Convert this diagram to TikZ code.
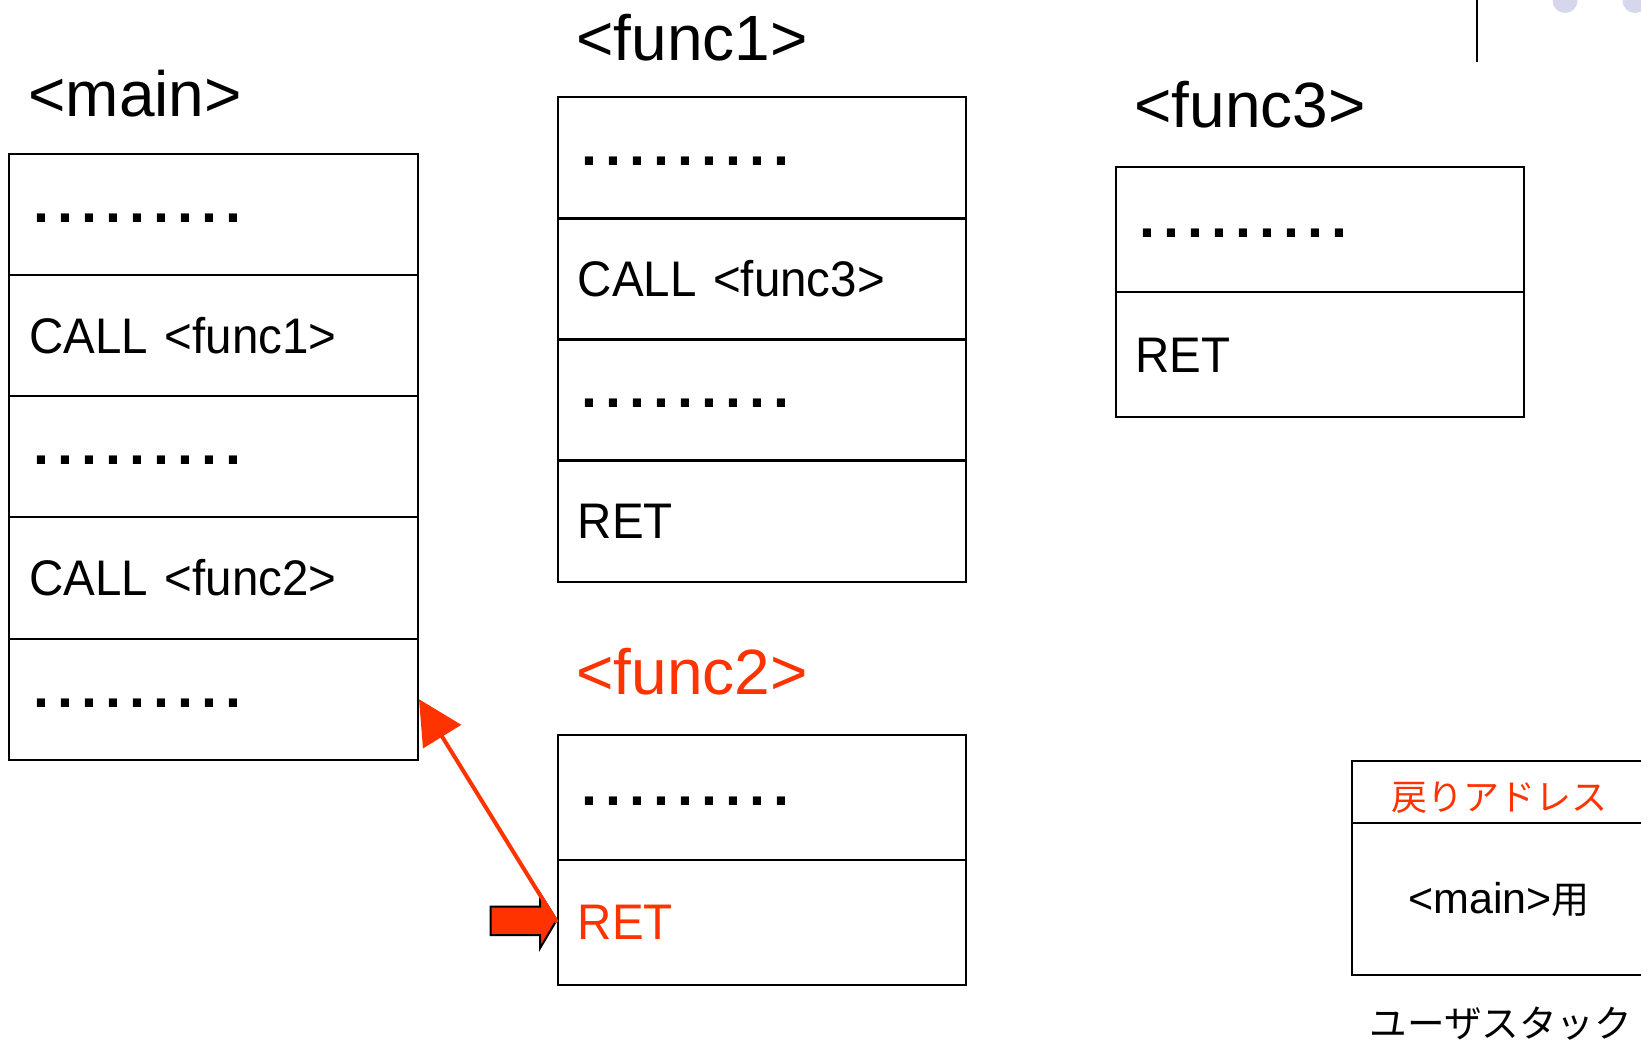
\documentclass[tikz,border=0pt]{standalone}
\usepackage{fontspec}
\setmainfont{Liberation Sans}
\newfontfamily\codefamily[FakeStretch=0.95,WordSpace=0.8]{Liberation Sans}
\newfontfamily\jpfont{Noto Sans CJK JP}
\usetikzlibrary{arrows.meta}
\definecolor{alertred}{RGB}{255,51,0}
\definecolor{softlavender}{RGB}{214,214,236}
\newcommand{\titlesize}{\fontsize{32pt}{38pt}\selectfont}
\newcommand{\codesize}{\codefamily\fontsize{25pt}{30pt}\selectfont}
\newcommand{\kanasize}{\jpfont\fontsize{18pt}{22pt}\selectfont}
\newcommand{\onedot}{\makebox[12pt]{.}}
\newcommand{\dotline}{\raisebox{-2pt}[4pt][0pt]{\rmfamily\bfseries\fontsize{28.75pt}{30pt}\selectfont
  \onedot\onedot\onedot\onedot\onedot\onedot\onedot\onedot\onedot}}
\begin{document}
\begin{tikzpicture}[x=0.5pt,y=-0.5pt,
  codebox/.style={draw, line width=1pt, anchor=north west,
    minimum width=204.3pt, text width=184.3pt, inner xsep=10pt,
    inner ysep=0pt, align=left, font=\codesize},
  tallrow/.style={codebox, minimum height=60.6pt},
  widerow/.style={codebox, minimum height=62.5pt},
  title/.style={anchor=base west, inner sep=0pt, font=\titlesize},
  stackcell/.style={draw, line width=1pt, anchor=north west,
    minimum width=147.3pt, inner sep=0pt, font=\kanasize},
  retline/.style={draw=alertred, line width=2pt,
    -{Triangle[length=22pt,width=22pt]}},
  blockarrow/.style={fill=alertred, draw=black, line width=1pt,
    line join=miter}
]
\clip (0,0) rectangle (1641,1044);

% decorations at the top right
\draw[line width=1pt] (1477,0) -- (1477,62);
\fill[softlavender] (1565,0.5) circle[radius=12.5];
\fill[softlavender] (1635,0.5) circle[radius=12.5];

% <main>
\node[title] (tmain) at (28,116) {<main>};
\node[tallrow] (m1) at (8.4,152.8) {\dotline};
\node[tallrow] (m2) at (8.4,274.0) {CALL <func1>};
\node[tallrow] (m3) at (8.4,395.2) {\dotline};
\node[tallrow] (m4) at (8.4,516.4) {CALL <func2>};
\node[tallrow] (m5) at (8.4,637.6) {\dotline};

% <func1>
\node[title] (tf1) at (576,60) {<func1>};
\node[tallrow] (f1a) at (556.8,96.3) {\dotline};
\node[tallrow] (f1b) at (556.8,217.3) {CALL <func3>};
\node[tallrow] (f1c) at (556.8,338.3) {\dotline};
\node[tallrow] (f1d) at (556.8,459.3) {RET};

% <func3>
\node[title] (tf3) at (1134,127) {<func3>};
\node[widerow] (f3a) at (1114.6,166.4) {\dotline};
\node[widerow] (f3b) at (1114.6,291.4) {RET};

% <func2>
\node[title, text=alertred] (tf2) at (576,694) {<func2>};
\node[widerow] (f2a) at (556.8,733.7) {\dotline};
\node[widerow, text=alertred] (f2b) at (556.8,858.7) {RET};

% user stack
\node[stackcell, minimum height=31.15pt, text=alertred, text depth=0pt,
  text height=15pt] (sh) at (1350.7,760) {\raisebox{-1.5pt}{戻りアドレス}};
\node[stackcell, minimum height=75.85pt] (sb) at (1350.7,822.3)
  {{\rmfamily\fontsize{21.5pt}{25pt}\selectfont <main>}{\fontsize{19pt}{23pt}\selectfont 用}};
\node[inner sep=0pt, font=\jpfont\fontsize{18.8pt}{22pt}\selectfont] (ulabel)
  at (1501,1024) {ユーザスタック};

% return pointer and jump back
\draw[blockarrow] (490.7,906.7) -- (540,906.7) -- (540,893.3) -- (556.7,920)
  -- (540,948.3) -- (540,935) -- (490.7,935) -- cycle;
\draw[retline] (f2b.west) -- (m5.east);
\end{tikzpicture}
\end{document}
